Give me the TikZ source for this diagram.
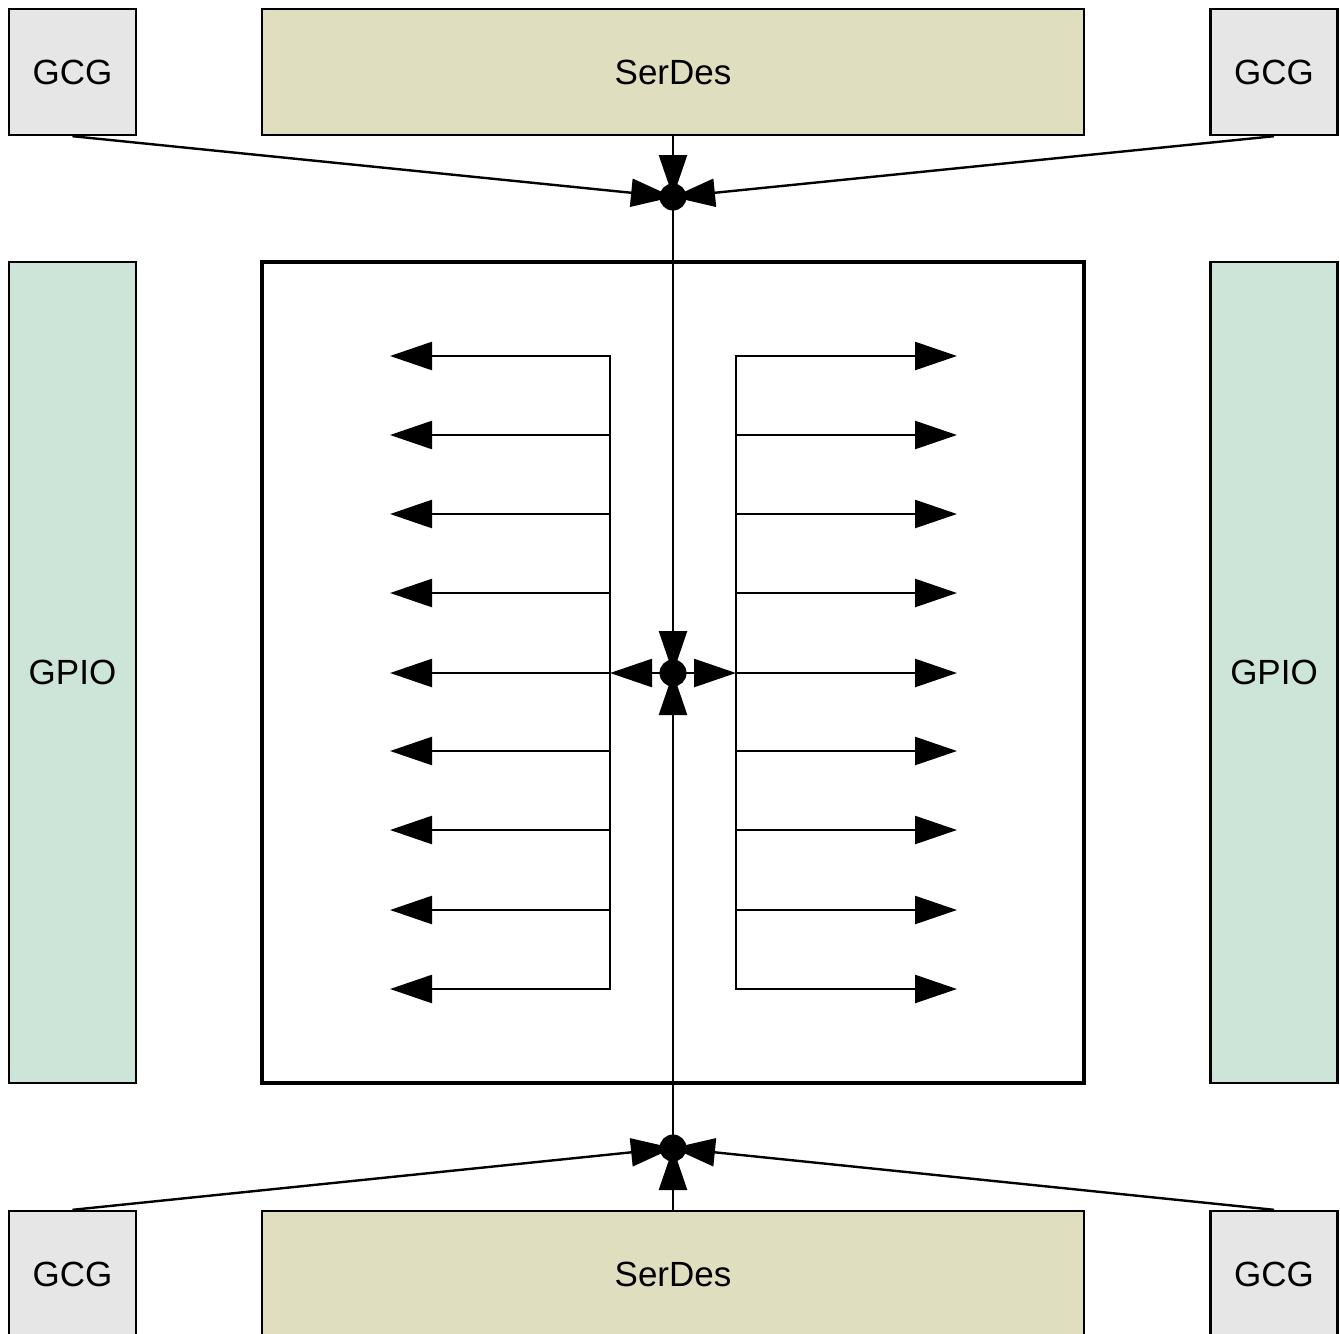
\documentclass[tikz,border=0pt]{standalone}
\usepackage{fontspec}
\setmainfont{Liberation Sans}
\usetikzlibrary{arrows.meta}
\definecolor{gcgfill}{RGB}{230,230,230}
\definecolor{serfill}{RGB}{223,223,192}
\definecolor{gpiofill}{RGB}{205,229,216}
\begin{document}
\begin{tikzpicture}[x=1pt,y=-1pt,
  box/.style={draw=black,line width=2.4pt,inner sep=0pt,font=\fontsize{35}{40}\selectfont},
  gcg/.style={box,fill=gcgfill,minimum width=127pt,minimum height=126pt},
  ser/.style={box,fill=serfill,minimum width=822pt,minimum height=126pt},
  gpio/.style={box,fill=gpiofill,minimum width=127pt,minimum height=821pt},
  core/.style={draw=black,line width=4pt,minimum width=822pt,minimum height=821pt,inner sep=0pt},
  conn/.style={line width=2.4pt,line join=miter},
  arr/.style={conn,-{Triangle[length=42pt,width=28pt]}},
  jdot/.style={circle,fill=black,inner sep=0pt,minimum size=27pt}]
\useasboundingbox (0,0) rectangle (1340,1333);
\clip (0,0) rectangle (1340,1333);
% boxes
\node[gcg] (gtl) at (72.5,72) {GCG};
\node[ser] (st) at (673,72) {SerDes};
\node[gcg] (gtr) at (1274,72) {GCG};
\node[gpio] (gpl) at (72.5,672.5) {GPIO};
\node[core] (core) at (673,672.5) {};
\node[gpio] (gpr) at (1274,672.5) {GPIO};
\node[gcg] (gbl) at (72.5,1274) {GCG};
\node[ser] (sb) at (673,1274) {SerDes};
\node[gcg] (gbr) at (1274,1274) {GCG};
% junctions
\coordinate (jt) at (673,197);
\coordinate (jc) at (673,673);
\coordinate (jb) at (673,1148);
% combs
\coordinate (Ltop) at (610,356);
\coordinate (Lbot) at (610,989);
\coordinate (Rtop) at (736,356);
\coordinate (Rbot) at (736,989);
\draw[conn] (440,356) -- (Ltop) -- (Lbot) -- (440,989);
\draw[conn] (900,356) -- (Rtop) -- (Rbot) -- (900,989);
\foreach \yy [count=\i] in {356,435,514,593,673,751,830,910,989} {
  \coordinate (L\i) at (610,\yy);
  \coordinate (LE\i) at (390,\yy);
  \coordinate (R\i) at (736,\yy);
  \coordinate (RE\i) at (957,\yy);
  \draw[arr] (L\i) -- (LE\i);
  \draw[arr] (R\i) -- (RE\i);
}
% top junction
\draw[arr] (gtl.south) -- (jt);
\draw[arr] (gtr.south) -- (jt);
\draw[arr] (st.south) -- (jt);
% bottom junction
\draw[arr] (gbl.north) -- (jb);
\draw[arr] (gbr.north) -- (jb);
\draw[arr] (sb.north) -- (jb);
% central
\draw[arr] (jt) -- (jc);
\draw[arr] (jb) -- (jc);
\draw[arr] (jc) -- (L5);
\draw[arr] (jc) -- (R5);
% dots
\node[jdot] (dt) at (jt) {};
\node[jdot] (dc) at (jc) {};
\node[jdot] (db) at (jb) {};
\end{tikzpicture}
\end{document}
